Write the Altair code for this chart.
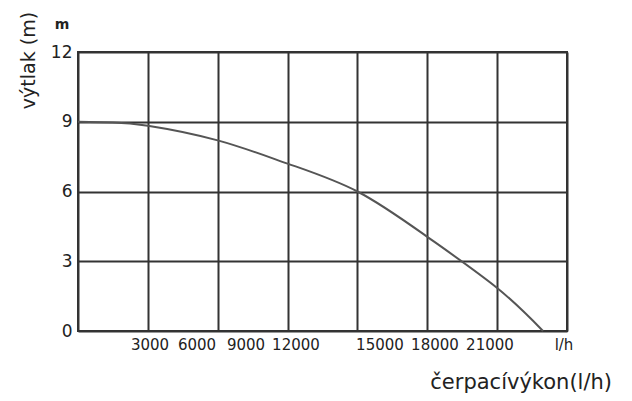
import altair as alt
import pandas as pd

# pump curve (flow in l/h, head in m)
flow = [0, 1500, 3000, 6000, 9000, 12000, 15000, 18000, 19970]
head = [9.0, 8.97, 8.83, 8.2, 7.2, 6.0, 4.05, 1.85, 0.0]

grid_values = [0, 3000, 6000, 9000, 12000, 15000, 18000, 21000]
y_ticks = [0, 3, 6, 9, 12]

# x tick labels as printed (placed where they appear under the grid)
tick_labels = ["3000", "6000", "9000", "12000", "15000", "18000", "21000"]
tick_label_pos = [3092, 5110, 7214, 9361, 12968, 15330, 17692]

FONT = "DejaVu Sans"
TXT = "#222222"
GRID = "#333333"

curve_df = pd.DataFrame({"flow": flow, "head": head})
lab_df = pd.DataFrame({"pos": tick_label_pos, "label": tick_labels})

xscale = alt.Scale(domain=[0, 21000], nice=False, zero=False)
yscale = alt.Scale(domain=[0, 12], nice=False)

curve = alt.Chart(curve_df).mark_line(
    color="#555555", strokeWidth=2, interpolate="natural"
).encode(
    x=alt.X("flow:Q", scale=xscale,
            axis=alt.Axis(values=grid_values, labels=False, ticks=False, domain=False,
                          grid=True, gridColor=GRID, gridWidth=2, gridOpacity=1, title=None)),
    y=alt.Y("head:Q", scale=yscale,
            axis=alt.Axis(values=y_ticks, ticks=False, domain=False, grid=True,
                          gridColor=GRID, gridWidth=2, gridOpacity=1,
                          labelFont=FONT, labelFontSize=17, labelColor=TXT,
                          labelPadding=6,
                          title="výtlak (m)", titleFont=FONT, titleFontSize=19,
                          titleFontWeight="normal", titleColor=TXT,
                          titleAngle=-90, titleX=-50, titleY=8,
                          titleAlign="center", titleBaseline="middle")),
)

xlabels = alt.Chart(lab_df).mark_text(
    font=FONT, fontSize=15, color=TXT, baseline="middle", align="center"
).encode(
    x=alt.X("pos:Q", scale=xscale),
    y=alt.value(293),
    text="label:N",
)

m_unit = alt.Chart(pd.DataFrame({"t": ["m"]})).mark_text(
    font=FONT, fontSize=14, fontWeight="bold", color=TXT, align="center", baseline="middle"
).encode(x=alt.value(-16), y=alt.value(-27), text="t:N")

lh_unit = alt.Chart(pd.DataFrame({"t": ["l/h"]})).mark_text(
    font=FONT, fontSize=15, color=TXT, align="center", baseline="middle"
).encode(x=alt.value(486), y=alt.value(293), text="t:N")

x_title = alt.Chart(pd.DataFrame({"t": ["čerpacívýkon(l/h)"]})).mark_text(
    font=FONT, fontSize=21, color=TXT, align="right", baseline="middle"
).encode(x=alt.value(534), y=alt.value(331), text="t:N")

chart = alt.layer(curve, xlabels, m_unit, lh_unit, x_title).properties(
    width=489, height=279,
    autosize=alt.AutoSizeParams(type="none"),
    padding={"left": 78, "top": 52, "right": 65, "bottom": 70},
    background="white",
).configure_view(stroke=GRID, strokeWidth=2)

chart.save("out.html", embed_options={"renderer": "svg", "actions": False})
